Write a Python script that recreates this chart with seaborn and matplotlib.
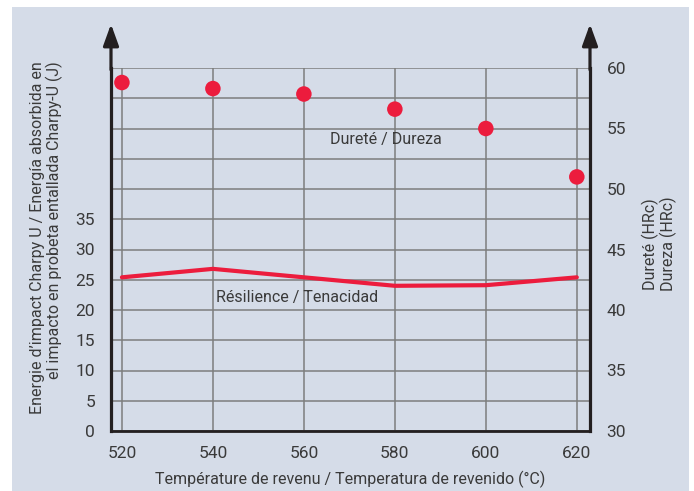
import seaborn as sns
import matplotlib.pyplot as plt
from matplotlib.patches import Rectangle
import pandas as pd

# data
temps = [520, 540, 560, 580, 600, 620]
hardness = [58.8, 58.3, 57.85, 56.6, 55.0, 51.0]      # HRc, right axis
toughness = [25.4, 26.8, 25.4, 24.0, 24.1, 25.4]      # J, left axis
left_ticks = [0, 5, 10, 15, 20, 25, 30, 35]
right_ticks = [30, 35, 40, 45, 50, 55, 60]

bg = '#d5dce8'
red = '#ec1c3d'
txt = '#3a3a3a'
grid_c = '#7d7d7d'
black = '#231f20'

sns.set_style('white')
plt.rcParams['font.family'] = ['Roboto', 'DejaVu Sans']

d = pd.DataFrame({'temp': temps, 'hard': hardness, 'tough': toughness})

fig = plt.figure(figsize=(6.94, 4.91), dpi=100)
fig.patch.set_facecolor('white')
fig.patches.append(Rectangle((12 / 694, 0), (689 - 12) / 694, (491 - 7) / 491,
                             transform=fig.transFigure, facecolor=bg,
                             edgecolor='none', zorder=-10))
ax = fig.add_axes([111 / 694, 1 - 431 / 491, (590 - 111) / 694, (431 - 68) / 491])
ax.patch.set_alpha(0)

ax.set_xlim(517.6, 622.9)
ax.set_ylim(0, 60)
ax.set_xticks(temps)
ax.set_yticks(list(range(0, 61, 5)))
ax.set_yticklabels([str(v) if v in left_ticks else '' for v in range(0, 61, 5)])
ax.grid(True, color=grid_c, lw=1.1)
ax.set_axisbelow(True)
ax.tick_params(length=0, labelsize=12.5, labelcolor=txt)
ax.tick_params(axis='y', pad=11.5)
ax.tick_params(axis='x', pad=11)

for s in ['left', 'right']:
    ax.spines[s].set_color(black)
    ax.spines[s].set_linewidth(2.3)
ax.spines['bottom'].set_color(black)
ax.spines['bottom'].set_linewidth(2.0)
ax.spines['top'].set_visible(False)

sns.lineplot(data=d, x='temp', y='tough', ax=ax, color=red, lw=3.0,
             legend=False, zorder=3)
ax.set_xlabel('Température de revenu / Temperatura de revenido (°C)',
              fontsize=11.5, color=txt, labelpad=7)
ax.set_ylabel('')
ax.text(-0.134, 0.532, "Energie d’impact Charpy U / Energía absorbida en\n"
        "el impacto en probeta entallada Charpy-U (J)",
        transform=ax.transAxes, rotation=90, ha='center', va='center',
        multialignment='right', fontsize=11.5, color=txt, linespacing=1.05)

ax2 = ax.twinx()
ax2.set_ylim(30, 60)
ax2.set_yticks(right_ticks)
for s in ax2.spines.values():
    s.set_visible(False)
ax2.tick_params(length=0, labelsize=12.5, labelcolor=txt, pad=12)
sns.scatterplot(data=d, x='temp', y='hard', ax=ax2, color=red, s=125,
                edgecolor='none', legend=False, zorder=4)
ax2.set_ylabel('')
ax2.text(1.144, 0.515, 'Dureté (HRc)\nDureza (HRc)', transform=ax.transAxes,
         rotation=90, ha='center', va='center', fontsize=11.5, color=txt,
         linespacing=1.05)

ax2.text(565.7, 54.1, 'Dureté / Dureza', ha='left', va='center',
         fontsize=11.5, color=txt)
ax.text(540.6, 22.0, 'Résilience / Tenacidad', ha='left', va='center',
        fontsize=11.5, color=txt)

# arrow heads on the vertical axes
for xpos in [0, 1]:
    ax.annotate('', xy=(xpos, 1.121), xytext=(xpos, 0.995),
                xycoords='axes fraction',
                arrowprops=dict(arrowstyle='-|>,head_length=1.3,head_width=0.47',
                                mutation_scale=10, lw=2.3, color=black,
                                shrinkA=0, shrinkB=0))

fig.savefig('out.png', dpi=100, facecolor='white')
